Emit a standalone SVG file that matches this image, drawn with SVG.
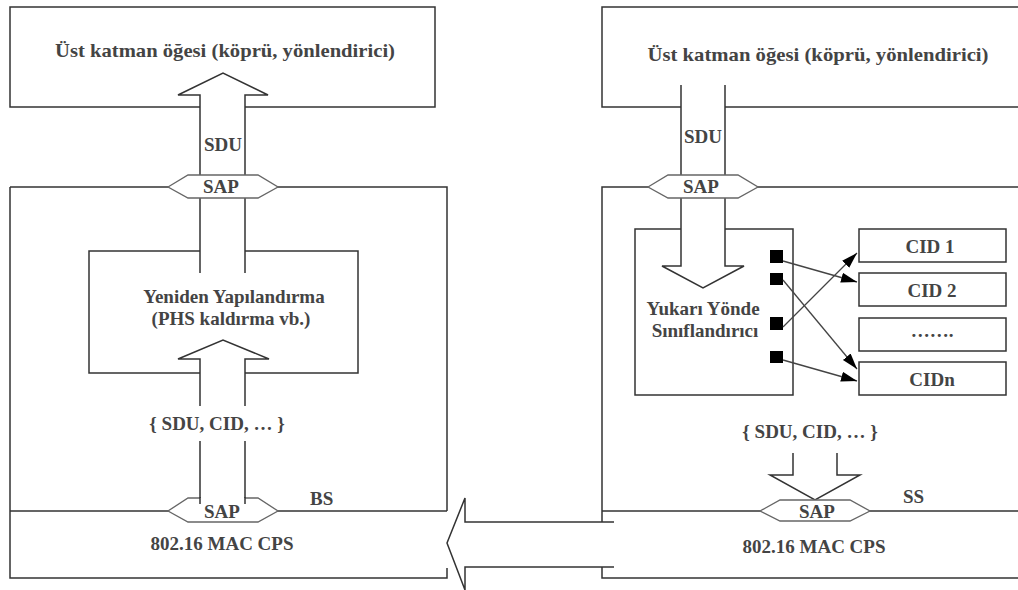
<svg xmlns="http://www.w3.org/2000/svg" width="1018" height="590" viewBox="0 0 1018 590">
<style>
.ln{fill:none;stroke:#333;stroke-width:1.5}
.hex{fill:#fff;stroke:#666;stroke-width:1.3}
.box{fill:#fff;stroke:#333;stroke-width:1.5}
.t{font-family:'Liberation Serif','Times New Roman','DejaVu Serif',serif;font-weight:bold;font-size:19px;fill:#444;text-anchor:middle}
.ts{text-anchor:start}
.sq{fill:#000}
.ar{fill:none;stroke:#444;stroke-width:1.3}
</style>
<defs>
<marker id="ah" markerUnits="userSpaceOnUse" markerWidth="17" markerHeight="11" refX="16" refY="5" orient="auto">
<path d="M0,0 L16,5 L0,10 z" fill="#000"/>
</marker>
</defs>
<rect width="1018" height="590" fill="#fff"/>

<g id="upper-left">
<path class="ln" d="M200,107 H10 V7 H435 V107 H245"/>
<text class="t" x="225" y="57" font-size="20" textLength="340" lengthAdjust="spacingAndGlyphs">Üst katman öğesi (köprü, yönlendirici)</text>
</g>

<g id="upper-right">
<path class="ln" d="M681,107 H602 V7 H1019 M1019,107 H725"/>
<text class="t" x="818" y="61" font-size="20" textLength="341" lengthAdjust="spacingAndGlyphs">Üst katman öğesi (köprü, yönlendirici)</text>
</g>

<g id="bs">
<path class="ln" d="M10,187 H447 V511 M447,568 V578 H10 V187 M10,511 H447"/>
<text class="t" x="222" y="550">802.16 MAC CPS</text>
<text class="t ts" x="310" y="505">BS</text>
</g>

<g id="ss">
<path class="ln" d="M1019,187 H602 V522 M602,567 V578 H1019 M602,511 H1019"/>
<text class="t" x="814" y="553">802.16 MAC CPS</text>
<text class="t ts" x="903" y="503">SS</text>
</g>

<g id="reconstruct">
<path class="ln" d="M200,251 H89 V373 H200 M245,373 H358 V251 H245"/>
<text class="t" x="234" y="303">Yeniden Yapılandırma</text>
<text class="t" x="231" y="325">(PHS kaldırma vb.)</text>
</g>

<g id="classifier">
<path class="ln" d="M681,229 H635 V395 H793 V229 H725"/>
<text class="t" x="703" y="315">Yukarı Yönde</text>
<text class="t" x="705" y="337">Sınıflandırıcı</text>
<rect class="sq" x="770" y="250" width="13" height="13"/>
<rect class="sq" x="770" y="273" width="13" height="12"/>
<rect class="sq" x="770" y="317" width="13" height="13"/>
<rect class="sq" x="770" y="351" width="13" height="12"/>
</g>

<g id="cid1"><rect class="box" x="859" y="229" width="147" height="33"/><text class="t" x="930" y="253">CID 1</text></g>
<g id="cid2"><rect class="box" x="859" y="273" width="147" height="33"/><text class="t" x="932" y="297">CID 2</text></g>
<g id="cid-dots"><rect class="box" x="859" y="318" width="147" height="33"/><text class="t" x="932" y="337">…….</text></g>
<g id="cidn"><rect class="box" x="859" y="362" width="147" height="33"/><text class="t" x="932" y="386">CIDn</text></g>

<g id="connectors">
<path class="ln" d="M200,273 V95 H178 L223,73 L268,95 H245 V273"/>
<text class="t" x="223" y="151">SDU</text>
<path class="ln" d="M200,406 V359 H178 L223,340 L269,359 H245 V406"/>
<path class="ln" d="M200,441 V504 M245,441 V504"/>
<text class="t" x="217" y="430">{ SDU, CID, … }</text>
<path class="ln" d="M681,85 V266 H662 L703,288 L744,266 H725 V85"/>
<text class="t" x="703" y="143">SDU</text>
<path class="ln" d="M793,453 V475 H770 L815,500 L860,475 H837 V453"/>
<text class="t" x="810" y="438">{ SDU, CID, … }</text>
<path class="ln" d="M614,522 H465 V498 L447,543 L465,590 V567 H614"/>
<line class="ar" x1="783" y1="261" x2="857" y2="282" marker-end="url(#ah)"/>
<line class="ar" x1="783" y1="280" x2="857" y2="369" marker-end="url(#ah)"/>
<line class="ar" x1="783" y1="327" x2="857" y2="253" marker-end="url(#ah)"/>
<line class="ar" x1="783" y1="360" x2="857" y2="381" marker-end="url(#ah)"/>
</g>

<g id="sap-top-left">
<polygon class="hex" points="168,187 188,175 258,175 278,187 258,198 188,198"/>
<text class="t" x="221" y="193">SAP</text>
</g>
<g id="sap-top-right">
<polygon class="hex" points="648,187 668,175 738,175 758,187 738,198 668,198"/>
<text class="t" x="701" y="193">SAP</text>
</g>
<g id="sap-bottom-left">
<path class="hex" d="M200,498 H188 L168,511 L188,522 H258 L278,511 L258,498 H245"/>
<path class="ln" d="M200,497 V504 M245,497 V504"/>
<text class="t" x="222" y="518">SAP</text>
</g>
<g id="sap-bottom-right">
<polygon class="hex" points="760,511 780,500 850,500 870,511 850,521 780,521"/>
<text class="t" x="817" y="518">SAP</text>
</g>
</svg>
